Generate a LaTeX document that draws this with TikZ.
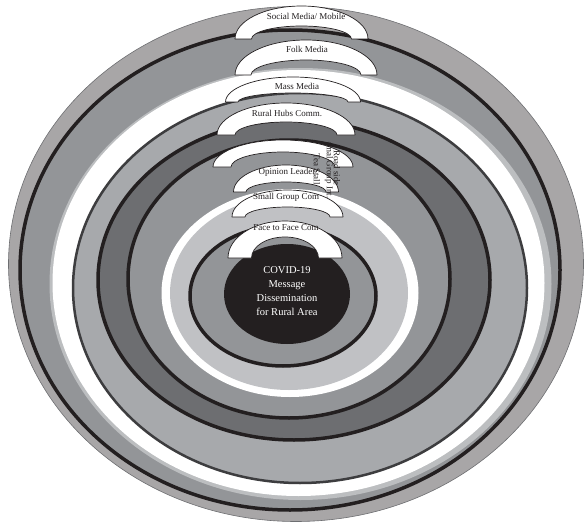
\documentclass[tikz,border=0pt]{standalone}
\usepackage{fontspec}
\setmainfont{Liberation Serif}
\definecolor{gOuter}{HTML}{A8A6A7}
\definecolor{gMid}{HTML}{939598}
\definecolor{gSliver}{HTML}{BCBEC0}
\definecolor{gLight}{HTML}{A7A9AC}
\definecolor{gDark}{HTML}{6D6E71}
\definecolor{gPale}{HTML}{C0C1C4}
\definecolor{gLine}{HTML}{3D3D3F}
\definecolor{inkBlack}{HTML}{231F20}
\newcommand{\myarch}[6]{%
  \draw[archst] ({#1-#3},#2) arc[start angle=180,end angle=360,x radius=#3,y radius=#4]
    -- ({#1+#5},#2) arc[start angle=360,end angle=180,x radius=#5,y radius=#6] -- cycle;}
\begin{document}
\begin{tikzpicture}[x=1pt,y=-1pt,
  ringblack/.style={draw=inkBlack,line width=3.5pt},
  archst/.style={draw=inkBlack,fill=white,line width=0.7pt,line join=round},
  lbl/.style={font=\fontsize{9}{10}\selectfont,inner sep=0pt,text=inkBlack},
  rlbl/.style={font=\fontsize{9}{10}\selectfont,inner sep=0pt,text=inkBlack,rotate=-90,anchor=west}]
\useasboundingbox (0,0) rectangle (584,527);
% rings, outside to inside
\draw[draw=gDark,line width=0.6pt,fill=gOuter] (296,264) ellipse [x radius=287.5,y radius=257.5];
\draw[ringblack,fill=gMid] (290,270) ellipse [x radius=270,y radius=240];
\fill[gSliver] (300.5,284) ellipse [x radius=251,y radius=216];
\fill[white] (298.5,283) ellipse [x radius=246,y radius=213];
\draw[draw=gLine,line width=2.5pt,fill=gLight] (300,288) ellipse [x radius=227,y radius=195];
\draw[ringblack,fill=gDark] (294,280) ellipse [x radius=196,y radius=160];
\draw[ringblack,fill=gMid] (289,279) ellipse [x radius=161,y radius=139];
\fill[white] (290,293) ellipse [x radius=128.5,y radius=104];
\fill[gPale] (289,293) ellipse [x radius=119,y radius=97];
\draw[ringblack,fill=gMid] (283,296) ellipse [x radius=93,y radius=70];
\fill[inkBlack] (287,294) ellipse [x radius=63,y radius=50];
% arches
\myarch{301.5}{39}{66.5}{33}{50}{13}
\node[lbl] (sm) at (306,16) {Social Media/ Mobile};
\myarch{306}{75}{71}{35}{55}{15}
\node[lbl] (fm) at (307,49) {Folk Media};
\myarch{293}{102}{67.5}{25}{55}{9}
\node[lbl] (mm) at (297,86) {Mass Media};
\myarch{286}{135}{69}{32}{51}{13}
\node[lbl] (rh) at (287,113) {Rural Hubs Comm.};
\myarch{283}{167}{70}{27}{52}{15}
\myarch{286}{192}{52.5}{27}{40}{10}
\node[lbl] (ol) at (287,172) {Opinion Leader};
\begin{scope}
\clip (300,141) rectangle (350,199);
\node[rlbl] (rs) at (337,150) {Road side};
\node[rlbl] (ig) at (329,127) {Informal Group Int.};
\node[rlbl] (ts) at (317,153) {Tea Stall};
\end{scope}
\myarch{287.5}{217}{55.5}{27}{42.5}{10}
\node[lbl] (sg) at (286,197) {Small Group Com};
\myarch{285}{258}{57}{37}{33.5}{21}
\node[lbl] (ff) at (286,228) {Face to Face Com};
% centre text
\node[font=\fontsize{10.5}{14}\selectfont,text=white,align=center] (core) at (287,291)
  {COVID-19\\Message\\Dissemination\\for Rural Area};
\end{tikzpicture}
\end{document}
